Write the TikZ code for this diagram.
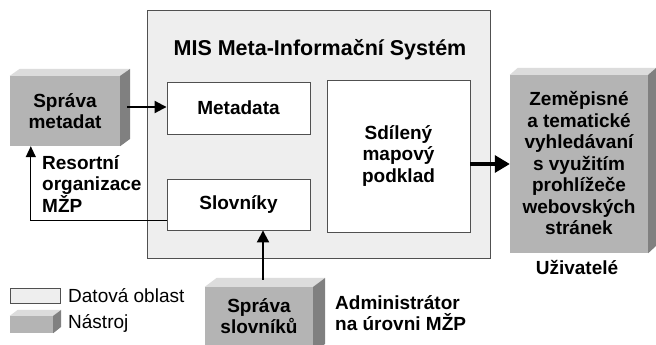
\documentclass[tikz,border=0pt]{standalone}
\usepackage{fontspec}
\setmainfont{Liberation Sans}
\usetikzlibrary{arrows.meta,calc}
\definecolor{areafill}{HTML}{EEEEEE}
\definecolor{areaedge}{HTML}{505050}
\definecolor{toolfront}{HTML}{B4B4B4}
\definecolor{tooltop}{HTML}{DCDCDC}
\definecolor{toolside}{HTML}{808080}
\tikzset{
  txt/.style={font=\fontsize{19}{21.5}\selectfont\bfseries, align=center, inner sep=0pt},
  plain/.style={font=\fontsize{19}{21.5}\selectfont, inner sep=0pt, anchor=west},
  databox/.style={draw=areaedge, fill=white, line width=0.9pt, inner sep=0pt},
  front/.style={fill=toolfront, inner sep=0pt},
  topface/.style={fill=tooltop},
  sideface/.style={fill=toolside},
  arr/.style={line width=2pt, -{Triangle[length=12pt,width=12pt]}},
  thinarr/.style={line width=1.2pt, -{Triangle[length=11pt,width=10pt]}},
  bigarr/.style={line width=3.2pt, -{Triangle[length=15pt,width=17pt]}},
}
\begin{document}
\begin{tikzpicture}[x=1pt,y=-1pt]
\useasboundingbox (0,0) rectangle (656,345);
\clip (0,0) rectangle (656,345);
\fill[white] (0,0) rectangle (656,345);

% outer data area
\node[draw=areaedge, fill=areafill, line width=0.9pt, minimum width=343pt, minimum height=248pt, inner sep=0pt] (mis) at (318.5,134) {};
\node[txt, font=\fontsize{21.5}{24}\selectfont\bfseries] (title) at (320,50) {MIS Meta-Informační Systém};

% inner boxes
\node[databox, minimum width=143pt, minimum height=52pt] (meta) at (238.5,108) {};
\node[txt] at (meta.center) {Metadata};
\node[databox, minimum width=143pt, minimum height=51pt] (slov) at (238.5,204.5) {};
\node[txt] at (slov.center) {Slovníky};
\node[databox, minimum width=143pt, minimum height=152pt] (sdil) at (398.5,156) {};
\node[txt] at (sdil.center) {Sdílený\\mapový\\podklad};

% tool: Sprava metadat
\node[front, minimum width=110pt, minimum height=70pt] (sm) at (65,111) {};
\fill[topface] (sm.north west) -- ++(10,-7) -- ++(110,0) -- (sm.north east) -- cycle;
\fill[sideface] (sm.north east) -- ++(10,-7) -- ++(0,70) -- (sm.south east) -- cycle;
\node[txt] at (sm.center) {Správa\\metadat};

% tool: Zemepisne
\node[front, minimum width=138pt, minimum height=178pt] (zem) at (579,164) {};
\fill[topface] (zem.north west) -- ++(8,-7) -- ++(138,0) -- (zem.north east) -- cycle;
\fill[sideface] (zem.north east) -- ++(8,-7) -- ++(0,178) -- (zem.south east) -- cycle;
\node[txt] at ([yshift=1pt]zem.center) {Zeměpisné\\a tematické\\vyhledávaní\\s využitím\\prohlížeče\\webovských\\stránek};
\node[txt] (uziv) at (577,267) {Uživatelé};

% tool: Sprava slovniku
\node[front, minimum width=108pt, minimum height=66pt] (ss) at (259,320) {};
\fill[topface] (ss.north west) -- ++(12,-9) -- ++(108,0) -- (ss.north east) -- cycle;
\fill[sideface] (ss.north east) -- ++(12,-9) -- ++(0,66) -- (ss.south east) -- cycle;
\node[txt] at (259,316) {Správa\\slovníků};
\node[txt, align=left, anchor=west] (admin) at (335,313) {Administrátor\\na úrovni MŽP};

% label Resortni
\node[txt, align=left, anchor=west] (res) at (42,184) {Resortní\\organizace\\MŽP};

% legend
\node[draw=areaedge, fill=areafill, line width=0.8pt, minimum width=50pt, minimum height=15pt, inner sep=0pt] (legd) at (35,295.5) {};
\node[plain] (legdt) at (68,296) {Datová oblast};
\node[front, minimum width=43pt, minimum height=17pt] (legt) at (31.5,324.5) {};
\fill[topface] (legt.north west) -- ++(8,-6) -- ++(43,0) -- (legt.north east) -- cycle;
\fill[sideface] (legt.north east) -- ++(8,-6) -- ++(0,17) -- (legt.south east) -- cycle;
\node[plain] (legtt) at (68,323) {Nástroj};

% connectors
\coordinate (smout) at ($(sm.east)+(7,-4)$);
\draw[arr] (smout) -- (smout -| meta.west);
\coordinate (slovout) at ($(slov.south west)+(0,-10)$);
\coordinate (smin) at ($(sm.south west)+(21,0)$);
\draw[thinarr] (slovout) -| (smin);
\coordinate (ssout) at ($(ss.north)+(4,-7)$);
\draw[arr] (ssout) -- (ssout |- slov.south);
\draw[bigarr] (sdil.east |- zem.west) -- (zem.west);
\end{tikzpicture}
\end{document}
